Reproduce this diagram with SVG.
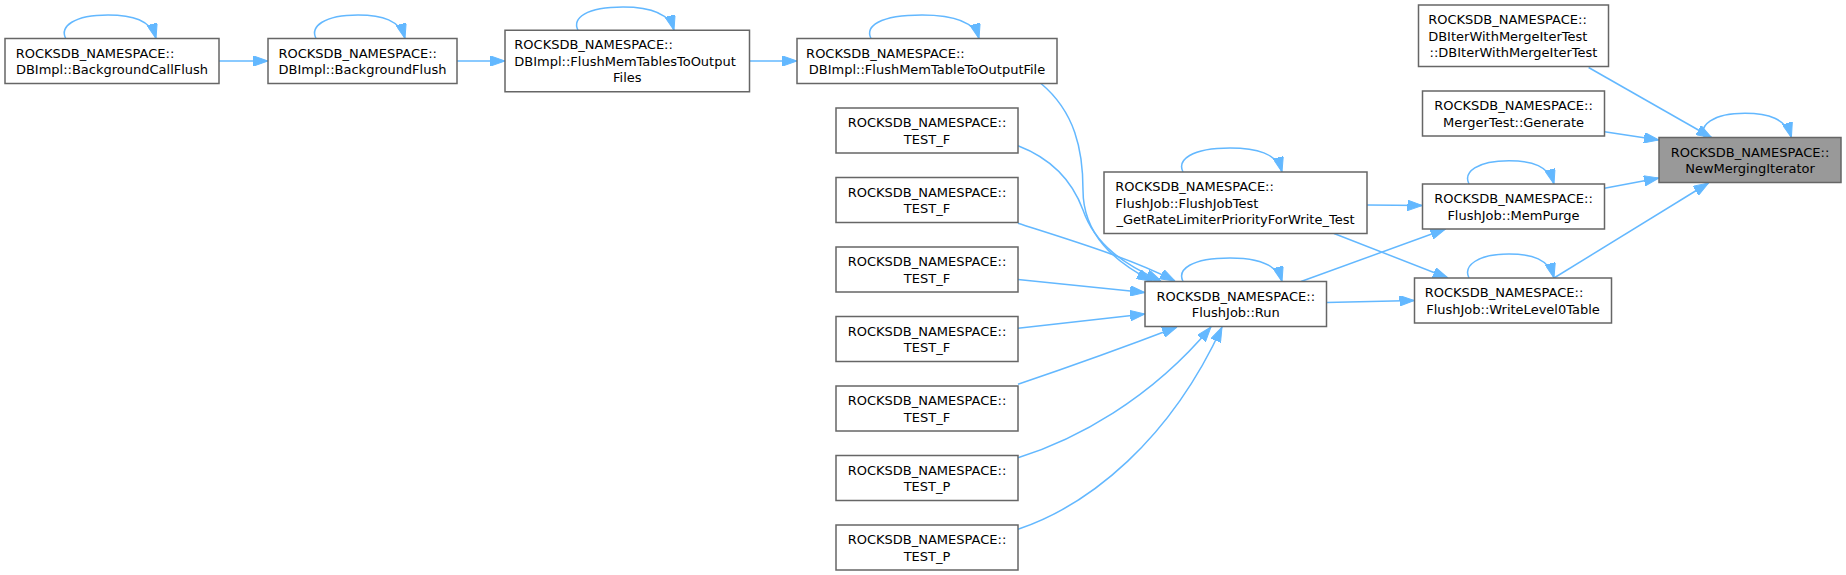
<svg xmlns="http://www.w3.org/2000/svg" width="1846" height="575" viewBox="0 0 1846 575">
<style>
.node rect{fill:#ffffff;stroke:#666666;stroke-width:1.5}
.node.root rect{fill:#999999}
.node text{font-family:"DejaVu Sans","Liberation Sans",sans-serif;font-size:13px;fill:#000000}
.m{text-anchor:middle}
.s{text-anchor:start}
.edges path{fill:none;stroke:#63b8ff;stroke-width:1.5;marker-end:url(#arr)}
</style>
<defs>
<marker id="arr" viewBox="0 0 15 10.5" refX="15" refY="5.25" markerWidth="15" markerHeight="10.5" markerUnits="userSpaceOnUse" orient="auto">
<path d="M0,0 L15,5.25 L0,10.5 z" fill="#63b8ff" stroke="#63b8ff" stroke-width="1"/>
</marker>
</defs>
<rect width="1846" height="575" fill="#ffffff"/>
<g id="edges" class="edges">
<path d="M219,61 L268,61"/>
<path d="M457,61 L505,61"/>
<path d="M749.5,61 L797,61"/>
<path d="M1041,83.5 C1075,112 1083,150 1083,190 C1083,235 1115,262 1152,281"/>
<path d="M1018,145.7 C1050,158 1072,180 1083,210 C1095,245 1125,265 1161,281"/>
<path d="M1018,223.3 C1070,240 1130,258 1175,281"/>
<path d="M1018,279.5 L1145,292.5"/>
<path d="M1018,328.3 L1145,314"/>
<path d="M1018,384.3 C1060,370 1130,345 1177,327"/>
<path d="M1018,457.7 C1075,440 1150,400 1211,327"/>
<path d="M1018,529.3 C1090,505 1170,440 1222,327"/>
<path d="M1301,281.5 L1445.5,229"/>
<path d="M1326.5,302.5 L1414.5,300.5"/>
<path d="M1367,205 L1422.5,205.5"/>
<path d="M1334,233.5 L1448,278"/>
<path d="M1604.5,188.3 L1659,178"/>
<path d="M1554,278 L1708.5,183"/>
<path d="M1604.5,131.7 L1659,140"/>
<path d="M1588.6,67.5 L1711.5,137.5"/>
<path d="M65.7,38.5 C59.7,26.5 73.7,15 108,15 C132,15 151,20 156,38.5"/>
<path d="M316,38.5 C310,26.5 324,15 358,15 C382,15 400,20 405,38.5"/>
<path d="M578,30.25 C572,18.25 586,7 623,7 C647,7 669,12 674,30.25"/>
<path d="M871,38.5 C865,26.5 879,15 922,15 C950,15 974,20 979,38.5"/>
<path d="M1183,172 C1177,160 1191,148 1230,148 C1256,148 1277,153 1282,172"/>
<path d="M1183,281.5 C1177,269.5 1191,258 1230,258 C1256,258 1277,263 1282,281.5"/>
<path d="M1469,184 C1463,172 1477,160.7 1509,160.7 C1532,160.7 1549,166 1554,184"/>
<path d="M1469,278 C1463,266 1477,254 1509,254 C1532,254 1549,259 1554,278"/>
<path d="M1704.5,137.5 C1698.5,125.5 1712.5,113.3 1745,113.3 C1768,113.3 1786,118.5 1791.4,137.5"/>
</g>
<g id="n_bcf" class="node"><rect x="5" y="38.5" width="214" height="45"/><text class="s" x="15.7" y="57.5">ROCKSDB_NAMESPACE::</text><text class="m" x="112" y="74">DBImpl::BackgroundCallFlush</text></g>
<g id="n_bf" class="node"><rect x="268" y="38.5" width="189" height="45"/><text class="s" x="278.4" y="57.5">ROCKSDB_NAMESPACE::</text><text class="m" x="362.5" y="74">DBImpl::BackgroundFlush</text></g>
<g id="n_fmts" class="node"><rect x="505" y="30.25" width="244.5" height="61.5"/><text class="s" x="514.3" y="49.25">ROCKSDB_NAMESPACE::</text><text class="s" x="514.3" y="65.75">DBImpl::FlushMemTablesToOutput</text><text class="m" x="627.25" y="82.25">Files</text></g>
<g id="n_fmt" class="node"><rect x="797" y="38.5" width="260" height="45"/><text class="s" x="806.1" y="57.5">ROCKSDB_NAMESPACE::</text><text class="m" x="927" y="74">DBImpl::FlushMemTableToOutputFile</text></g>
<g id="n_tf1" class="node"><rect x="836" y="108" width="182" height="45"/><text class="m" x="927" y="127">ROCKSDB_NAMESPACE::</text><text class="m" x="927" y="143.5">TEST_F</text></g>
<g id="n_tf2" class="node"><rect x="836" y="177.5" width="182" height="45"/><text class="m" x="927" y="196.5">ROCKSDB_NAMESPACE::</text><text class="m" x="927" y="213">TEST_F</text></g>
<g id="n_tf3" class="node"><rect x="836" y="247" width="182" height="45"/><text class="m" x="927" y="266">ROCKSDB_NAMESPACE::</text><text class="m" x="927" y="282.5">TEST_F</text></g>
<g id="n_tf4" class="node"><rect x="836" y="316.5" width="182" height="45"/><text class="m" x="927" y="335.5">ROCKSDB_NAMESPACE::</text><text class="m" x="927" y="352">TEST_F</text></g>
<g id="n_tf5" class="node"><rect x="836" y="386" width="182" height="45"/><text class="m" x="927" y="405">ROCKSDB_NAMESPACE::</text><text class="m" x="927" y="421.5">TEST_F</text></g>
<g id="n_tp1" class="node"><rect x="836" y="455.5" width="182" height="45"/><text class="m" x="927" y="474.5">ROCKSDB_NAMESPACE::</text><text class="m" x="927" y="491">TEST_P</text></g>
<g id="n_tp2" class="node"><rect x="836" y="525" width="182" height="45"/><text class="m" x="927" y="544">ROCKSDB_NAMESPACE::</text><text class="m" x="927" y="560.5">TEST_P</text></g>
<g id="n_fjt" class="node"><rect x="1104" y="172" width="263" height="61.5"/><text class="s" x="1115.3" y="191">ROCKSDB_NAMESPACE::</text><text class="s" x="1115.3" y="207.5">FlushJob::FlushJobTest</text><text class="m" x="1235.5" y="224">_GetRateLimiterPriorityForWrite_Test</text></g>
<g id="n_run" class="node"><rect x="1145" y="281.5" width="181.5" height="45"/><text class="m" x="1235.75" y="300.5">ROCKSDB_NAMESPACE::</text><text class="m" x="1235.75" y="317">FlushJob::Run</text></g>
<g id="n_dbiter" class="node"><rect x="1418.5" y="5" width="190" height="61.5"/><text class="s" x="1428.2" y="24">ROCKSDB_NAMESPACE::</text><text class="s" x="1428.2" y="40.5">DBIterWithMergeIterTest</text><text class="m" x="1513.5" y="57">::DBIterWithMergeIterTest</text></g>
<g id="n_merger" class="node"><rect x="1422.5" y="91" width="182" height="45"/><text class="m" x="1513.5" y="110">ROCKSDB_NAMESPACE::</text><text class="m" x="1513.5" y="126.5">MergerTest::Generate</text></g>
<g id="n_mempurge" class="node"><rect x="1422.5" y="184" width="182" height="45"/><text class="m" x="1513.5" y="203">ROCKSDB_NAMESPACE::</text><text class="m" x="1513.5" y="219.5">FlushJob::MemPurge</text></g>
<g id="n_wl0" class="node"><rect x="1414.5" y="278" width="197" height="45"/><text class="s" x="1424.7" y="297">ROCKSDB_NAMESPACE::</text><text class="m" x="1513" y="313.5">FlushJob::WriteLevel0Table</text></g>
<g id="n_nmi" class="node root"><rect x="1659" y="137.5" width="182" height="45"/><text class="m" x="1750" y="156.5">ROCKSDB_NAMESPACE::</text><text class="m" x="1750" y="173">NewMergingIterator</text></g>
</svg>
